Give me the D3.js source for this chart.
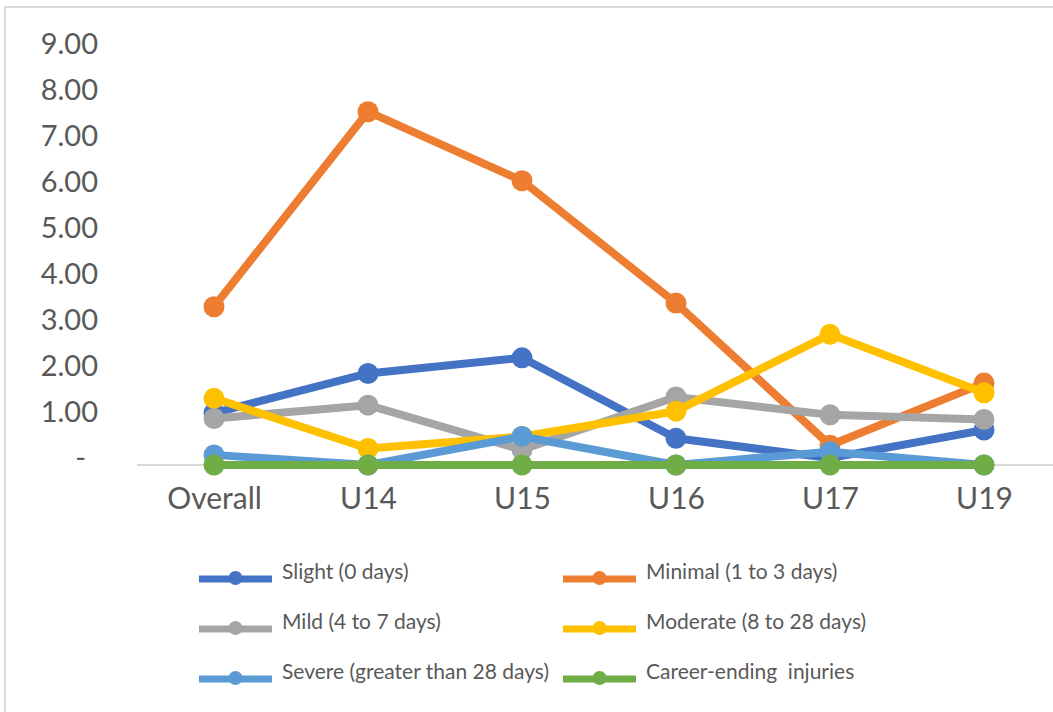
<!DOCTYPE html>
<html>
<head>
<meta charset="utf-8">
<script src="https://cdn.jsdelivr.net/npm/d3@7"></script>
<style>
  html, body { margin: 0; padding: 0; background: #ffffff; }
  svg { display: block; font-family: Lato, "Open Sans", sans-serif; }
</style>
</head>
<body>
<svg id="chart" width="1053" height="712"></svg>
<script>
// Injury rates by severity, per age group
const categories = ["Overall", "U14", "U15", "U16", "U17", "U19"];
const yTicks = [0, 1, 2, 3, 4, 5, 6, 7, 8, 9];
const yTickLabels = ["-", "1.00", "2.00", "3.00", "4.00", "5.00", "6.00", "7.00", "8.00", "9.00"];

const seriesNames = [
  "Slight (0 days)",
  "Minimal (1 to 3 days)",
  "Mild (4 to 7 days)",
  "Moderate (8 to 28 days)",
  "Severe (greater than 28 days)",
  "Career-ending  injuries"
];
const seriesColors = ["#4472C4", "#ED7D31", "#A5A5A5", "#FFC000", "#5B9BD5", "#70AD47"];

const slight      = [1.13, 1.99, 2.33, 0.58, 0.15, 0.76];
const minimal     = [3.44, 7.68, 6.18, 3.52, 0.43, 1.78];
const mild        = [1.01, 1.30, 0.33, 1.48, 1.09, 0.99];
const moderate    = [1.45, 0.36, 0.62, 1.17, 2.84, 1.57];
const severe      = [0.22, 0.00, 0.62, 0.00, 0.29, 0.00];
const careerEnding = [0.00, 0.00, 0.00, 0.00, 0.00, 0.00];

const seriesValues = [slight, minimal, mild, moderate, severe, careerEnding];

const svg = d3.select("#chart");
const W = 1053, H = 712;

svg.append("rect").attr("width", W).attr("height", H).attr("fill", "#ffffff");

// chart area outline (continues past the right and bottom edges)
svg.append("rect")
  .attr("x", 5).attr("y", 7)
  .attr("width", 1100).attr("height", 800)
  .attr("fill", "none")
  .attr("stroke", "#d9d9d9")
  .attr("stroke-width", 2);

const plotLeft = 137, plotRight = 1061;
const x = d3.scalePoint().domain(categories).range([plotLeft, plotRight]).padding(0.5);
const y = d3.scaleLinear().domain([0, 9]).range([465, 51]);

// baseline
svg.append("line")
  .attr("x1", plotLeft).attr("x2", plotRight)
  .attr("y1", y(0)).attr("y2", y(0))
  .attr("stroke", "#d9d9d9").attr("stroke-width", 2);

// value axis
const yAxis = svg.append("g")
  .attr("transform", "translate(98,0)")
  .call(d3.axisLeft(y)
    .tickValues(yTicks)
    .tickSize(0)
    .tickPadding(0)
    .tickFormat((d, i) => yTickLabels[i]));
yAxis.select(".domain").remove();
yAxis.selectAll("text")
  .attr("font-family", "Lato, 'Open Sans', sans-serif")
  .attr("font-size", 29)
  .attr("fill", "#595959")
  .attr("dy", "0.35em")
  .attr("y", -8)
  .attr("x", d => d === 0 ? -12 : 0);

// category axis
const xAxis = svg.append("g")
  .attr("transform", `translate(0,${y(0)})`)
  .call(d3.axisBottom(x).tickSize(0).tickPadding(0));
xAxis.select(".domain").remove();
xAxis.selectAll("text")
  .attr("font-family", "Lato, 'Open Sans', sans-serif")
  .attr("font-size", 30)
  .attr("fill", "#595959")
  .attr("dy", 0)
  .attr("y", 44);

// series lines and markers
const line = d3.line()
  .x((d, i) => x(categories[i]))
  .y(d => y(d));

seriesValues.forEach((vals, s) => {
  const g = svg.append("g").attr("class", "series");
  g.append("path")
    .datum(vals)
    .attr("d", line)
    .attr("fill", "none")
    .attr("stroke", seriesColors[s])
    .attr("stroke-width", 8)
    .attr("stroke-linejoin", "round")
    .attr("stroke-linecap", "round");
  g.selectAll("circle")
    .data(vals)
    .join("circle")
    .attr("cx", (d, i) => x(categories[i]))
    .attr("cy", d => y(d))
    .attr("r", 10.5)
    .attr("fill", seriesColors[s]);
});

// legend: two columns, three rows
const legendCols = [199, 563];
const legendRowY = [579, 629, 679];
seriesNames.forEach((name, s) => {
  const col = s % 2, row = Math.floor(s / 2);
  const lx = legendCols[col], ly = legendRowY[row];
  const g = svg.append("g").attr("transform", `translate(${lx},${ly})`);
  g.append("line")
    .attr("x1", 0).attr("x2", 73)
    .attr("y1", 0).attr("y2", 0)
    .attr("stroke", seriesColors[s])
    .attr("stroke-width", 7);
  g.append("circle")
    .attr("cx", 36.5).attr("cy", -1)
    .attr("r", 7)
    .attr("fill", seriesColors[s]);
  g.append("text")
    .attr("x", 83).attr("y", -7)
    .attr("dy", "0.35em")
    .attr("font-size", 21)
    .attr("fill", "#595959")
    .style("white-space", "pre")
    .text(name);
});
</script>
</body>
</html>
